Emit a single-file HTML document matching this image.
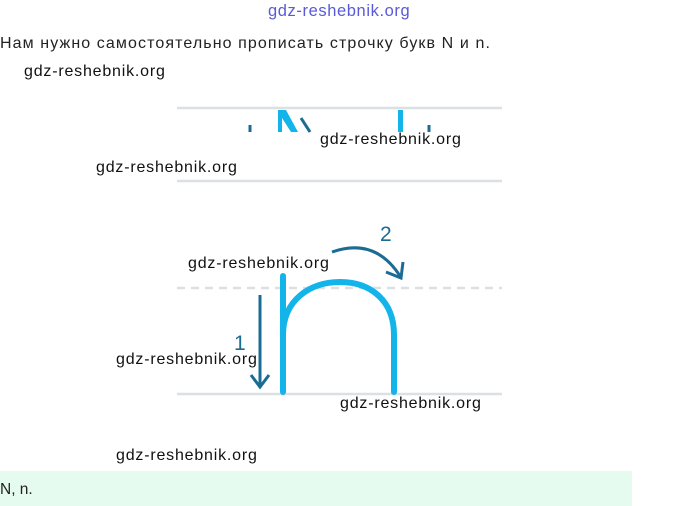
<html><head><style>
body{margin:0;width:680px;height:506px;background:#fff;position:relative;overflow:hidden;font-family:"Liberation Sans",sans-serif;}
.t{position:absolute;white-space:nowrap;}
.w{font-size:16px;color:#111;letter-spacing:0.8px;}
</style></head><body>
<div class="t" style="left:268px;top:2px;font-size:16.5px;letter-spacing:0.6px;color:#5a5ad8;">gdz-reshebnik.org</div>
<div class="t" style="left:0;top:35px;font-size:16px;letter-spacing:1.1px;color:#222;">Нам нужно самостоятельно прописать строчку букв N и n.</div>
<div style="position:absolute;left:0;top:471px;width:632px;height:35px;background:#e6fbef;"></div>
<div class="t" style="left:0;top:481px;font-size:15.5px;color:#222;">N, n.</div>
<svg width="680" height="506" style="position:absolute;left:0;top:0">
<g stroke="#dde0e3" stroke-width="2.5">
<line x1="177" y1="108" x2="502" y2="108"/>
<line x1="177" y1="181" x2="502" y2="181"/>
<line x1="177" y1="288" x2="502" y2="288" stroke-dasharray="8,6"/>
<line x1="177" y1="394" x2="502" y2="394"/>
</g>
<g fill="#12b4ea">
<polygon points="278,110 286,110 298,132 291,132 282,118 282,132 278,132"/>
<rect x="398" y="110" width="5" height="22"/>
</g>
<g stroke="#1a6c94" stroke-width="3">
<line x1="250" y1="125" x2="250" y2="132"/>
<line x1="301" y1="118" x2="310" y2="132"/>
<line x1="429" y1="125" x2="429" y2="132"/>
</g>
<path d="M283 276 V392 M283 392 M283 335 C283 300 310 282 340 282 C370 282 394 300 394 335 V392" fill="none" stroke="#12b4ea" stroke-width="6" stroke-linecap="round"/>
<g fill="none" stroke="#1a6c94" stroke-width="3">
<line x1="260" y1="295" x2="260" y2="386"/>
<polyline points="251,375 260,387 269,375"/>
<path d="M332 252 Q375 237 400 276"/>
<polyline points="386,272 401,278 403,262"/>
</g>
<text x="234" y="350" font-size="21" fill="#1a6c94" font-family="Liberation Sans">1</text>
<text x="380" y="241" font-size="21" fill="#1a6c94" font-family="Liberation Sans">2</text>
</svg>
<div class="t w" style="left:24px;top:63px;">gdz-reshebnik.org</div>
<div class="t w" style="left:320px;top:131px;">gdz-reshebnik.org</div>
<div class="t w" style="left:96px;top:159px;">gdz-reshebnik.org</div>
<div class="t w" style="left:188px;top:255px;">gdz-reshebnik.org</div>
<div class="t w" style="left:116px;top:351px;">gdz-reshebnik.org</div>
<div class="t w" style="left:340px;top:395px;">gdz-reshebnik.org</div>
<div class="t w" style="left:116px;top:447px;">gdz-reshebnik.org</div>
</body></html>
